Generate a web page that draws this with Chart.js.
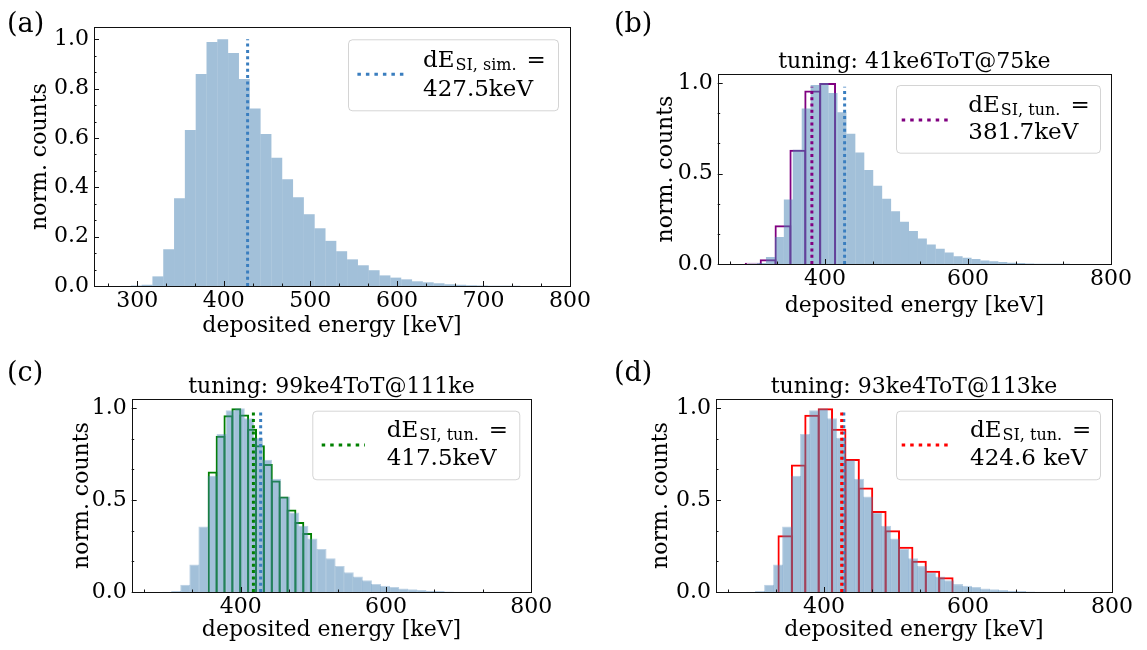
<!DOCTYPE html>
<html>
<head>
<meta charset="utf-8">
<title>deposited energy histograms</title>
<script src="https://cdn.jsdelivr.net/npm/chart.js@4.4.1/dist/chart.umd.min.js"></script>
<style>
  html, body { margin: 0; padding: 0; background: #fff; }
  #fig { position: relative; width: 1147px; height: 650px; overflow: hidden; }
  #fig canvas { position: absolute; }
</style>
</head>
<body>
<div id="fig">
  <canvas id="chartA" width="600" height="345" style="left:0;top:0"></canvas>
  <canvas id="chartB" width="547" height="345" style="left:600px;top:0"></canvas>
  <canvas id="chartC" width="600" height="305" style="left:0;top:345px"></canvas>
  <canvas id="chartD" width="547" height="305" style="left:600px;top:345px"></canvas>
</div>
<script>
// simulated deposited energy, 12.5 keV bins (bin centres in keV)
const simBinWidth = 12.5;
const simCenters = [298.75, 311.25, 323.75, 336.25, 348.75, 361.25, 373.75, 386.25, 398.75, 411.25,
  423.75, 436.25, 448.75, 461.25, 473.75, 486.25, 498.75, 511.25, 523.75, 536.25,
  548.75, 561.25, 573.75, 586.25, 598.75, 611.25, 623.75, 636.25, 648.75, 661.25,
  673.75, 686.25, 698.75, 711.25, 723.75, 736.25];
const simCounts = [0.002, 0.005, 0.039, 0.149, 0.356, 0.632, 0.859, 0.989, 1.0, 0.945,
  0.839, 0.72, 0.616, 0.52, 0.433, 0.36, 0.291, 0.234, 0.183, 0.141,
  0.108, 0.084, 0.064, 0.043, 0.034, 0.027, 0.019, 0.015, 0.011, 0.007,
  0.005, 0.003, 0.002, 0.001, 0.001, 0.001];
const simMean = 427.5;

// tuning 41ke6ToT@75ke
const tunB_binWidth = 20.8;
const tunB_centers = [278.9, 299.7, 320.5, 341.3, 362.1, 382.9, 403.7];
const tunB_counts = [0.002, 0.007, 0.026, 0.214, 0.631, 0.959, 1.0];
const tunB_mean = 381.7;

// tuning 99ke4ToT@111ke
const tunC_binWidth = 10.85;
const tunC_centers = [361.4, 372.3, 383.1, 394.0, 404.8, 415.7, 426.5, 437.4, 448.2, 459.1, 469.9, 480.8, 491.6];
const tunC_counts = [0.655, 0.850, 0.962, 1.0, 0.966, 0.888, 0.798, 0.697, 0.606, 0.520, 0.449, 0.381, 0.321];
const tunC_mean = 417.5;

// tuning 93ke4ToT@113ke
const tunD_binWidth = 18.6;
const tunD_centers = [346.1, 364.7, 383.3, 401.9, 420.5, 439.1, 457.7, 476.3, 494.9, 513.5, 532.1, 550.7, 569.3];
const tunD_counts = [0.309, 0.694, 0.964, 1.0, 0.888, 0.723, 0.568, 0.441, 0.336, 0.246, 0.170, 0.116, 0.080];
const tunD_mean = 424.6;

// axis ticks
const xTicksA = [300, 400, 500, 600, 700, 800];
const yTicksA = [0, 0.2, 0.4, 0.6, 0.8, 1.0];
const xTicksBCD = [400, 600, 800];
const yTicksBCD = [0, 0.5, 1.0];
const xMin = 250, xMax = 800;

const FONT = '"DejaVu Serif", serif';
const simFill = 'rgba(70,130,180,0.5)';
const simLine = '#3a7ebf';

// minor ticks: two between each pair of majors (3 divisions)
function minorTicks(majors, lo, hi) {
  const step = (majors[1] - majors[0]) / 3;
  const out = [];
  for (let v = majors[0] - 3 * step; v <= hi + 1e-9; v += step) {
    if (v < lo - 1e-9) continue;
    if (majors.some(m => Math.abs(m - v) < 1e-6)) continue;
    out.push(v);
  }
  return out;
}

function drawLegend(ctx, a, lg) {
  const bx = a.right - lg.gapR - lg.w, by = a.top + lg.gapT;
  ctx.save();
  ctx.beginPath();
  ctx.roundRect(bx + 0.5, by + 0.5, lg.w, lg.h, 4);
  ctx.fillStyle = 'rgba(255,255,255,0.8)';
  ctx.fill();
  ctx.strokeStyle = 'rgba(0,0,0,0.17)';
  ctx.lineWidth = 1;
  ctx.stroke();

  ctx.beginPath();
  ctx.setLineDash([3.5, 5]);
  ctx.lineWidth = 3;
  ctx.strokeStyle = lg.color;
  ctx.moveTo(bx + lg.sx0, by + lg.sy);
  ctx.lineTo(bx + lg.sx1, by + lg.sy);
  ctx.stroke();
  ctx.setLineDash([]);

  const big = '23px ' + FONT, small = '16px ' + FONT;
  ctx.fillStyle = '#000';
  ctx.textAlign = 'left';
  ctx.textBaseline = 'alphabetic';
  let tx = bx + lg.tx;
  ctx.font = big;
  ctx.fillText('dE', tx, by + lg.b1);
  tx += ctx.measureText('dE').width + 1;
  ctx.font = small;
  ctx.fillText(lg.sub, tx, by + lg.b1 + 3);
  tx += ctx.measureText(lg.sub).width;
  ctx.font = big;
  ctx.fillText('=', tx + 10, by + lg.b1);
  ctx.fillText(lg.value, bx + lg.tx, by + lg.b2);
  ctx.restore();
}

const panelDecor = {
  id: 'panelDecor',
  afterDatasetsDraw(chart, args, o) {
    const {ctx, chartArea: a} = chart;
    const x = chart.scales.x, y = chart.scales.y;
    ctx.save();
    ctx.strokeStyle = '#111';
    ctx.lineWidth = 1;
    ctx.beginPath();
    const mark = (vals, len, horiz) => vals.forEach(v => {
      if (horiz) {
        const p = Math.round(x.getPixelForValue(v)) + 0.5;
        ctx.moveTo(p, a.bottom); ctx.lineTo(p, a.bottom - len);
      } else {
        const p = Math.round(y.getPixelForValue(v)) + 0.5;
        ctx.moveTo(a.left, p); ctx.lineTo(a.left + len, p);
      }
    });
    mark(o.xMajor, 5, true);
    mark(minorTicks(o.xMajor, xMin, xMax), 2.5, true);
    mark(o.yMajor, 5, false);
    mark(minorTicks(o.yMajor, 0, 1.05), 2.5, false);
    ctx.stroke();
    const l = Math.round(a.left) + 0.5, t = Math.round(a.top) + 0.5;
    ctx.strokeRect(l, t, Math.round(a.right) - Math.round(a.left), Math.round(a.bottom) - Math.round(a.top));
    ctx.restore();
  },
  afterDraw(chart, args, o) {
    const {ctx, chartArea: a} = chart;
    ctx.save();
    ctx.fillStyle = '#000';
    ctx.textBaseline = 'alphabetic';
    ctx.textAlign = 'left';
    ctx.font = '27px ' + FONT;
    ctx.fillText(o.label, o.labelX, o.labelY);
    if (o.title) {
      ctx.textAlign = 'center';
      ctx.font = '22px ' + FONT;
      ctx.fillText(o.title, (a.left + a.right) / 2, a.top - 6);
    }
    ctx.restore();
    drawLegend(ctx, a, o.legend);
  }
};

function makeChart(id, p) {
  const canvas = document.getElementById(id);
  // pixels per keV of the plot area, used to size histogram bins to their full width
  const pxPerKeV = (canvas.width - p.yW - p.padRight) / (xMax - xMin);
  const datasets = [];
  if (p.tuned) {
    datasets.push({
      type: 'bar',
      data: p.tuned.centers.map((c, i) => ({x: c, y: p.tuned.counts[i]})),
      xAxisID: 'x2',
      backgroundColor: 'rgba(0,0,0,0)',
      borderColor: p.tuned.color,
      borderWidth: 2,
      grouped: false,
      categoryPercentage: 1,
      barPercentage: 100,
      maxBarThickness: p.tuned.binWidth * pxPerKeV + 2,
      inflateAmount: 0,
      order: 3
    });
  }
  datasets.push({
    type: 'bar',
    data: simCenters.map((c, i) => ({x: c, y: simCounts[i]})),
    xAxisID: 'x',
    backgroundColor: simFill,
    borderColor: 'rgba(70,130,180,0.35)',
    borderWidth: p.simEdge ? 1 : 0,
    grouped: false,
    categoryPercentage: 1,
    barPercentage: 100,
    maxBarThickness: simBinWidth * pxPerKeV + (p.simEdge ? 1 : 0),
    inflateAmount: 0,
    order: 2
  });
  datasets.push({
    type: 'line',
    data: [{x: simMean, y: 0}, {x: simMean, y: p.lineTop}],
    xAxisID: 'x',
    borderColor: simLine,
    borderWidth: 3,
    borderDash: [3, 3.3],
    pointRadius: 0,
    order: 1
  });
  if (p.tuned) {
    datasets.push({
      type: 'line',
      data: [{x: p.tuned.mean, y: 0}, {x: p.tuned.mean, y: p.lineTop}],
      xAxisID: 'x',
      borderColor: p.tuned.color,
      borderWidth: 3,
      borderDash: [3, 3.3],
      pointRadius: 0,
      order: 0
    });
  }

  const tickFont = {family: FONT, size: 22};
  return new Chart(canvas, {
    type: 'bar',
    data: {datasets},
    options: {
      responsive: false,
      maintainAspectRatio: false,
      devicePixelRatio: 1,
      animation: false,
      events: [],
      layout: {padding: {top: p.padTop, right: p.padRight, left: 0, bottom: 0}},
      plugins: {
        legend: {display: false},
        tooltip: {enabled: false},
        panelDecor: {
          xMajor: p.xTicks, yMajor: p.yTicks,
          label: p.label, labelX: p.labelX, labelY: p.labelY,
          title: p.title, legend: p.legend
        }
      },
      scales: {
        x: {
          type: 'linear', min: xMin, max: xMax, offset: false,
          grid: {display: false, drawTicks: false, offset: false},
          border: {display: false},
          ticks: {font: tickFont, color: '#000', padding: 2, autoSkip: false, maxRotation: 0,
                  callback: v => String(v)},
          afterBuildTicks: s => { s.ticks = p.xTicks.map(v => ({value: v})); },
          afterFit: s => { s.height = p.xH; s.paddingLeft = 0; s.paddingRight = 0; },
          title: {display: true, text: 'deposited energy [keV]', font: tickFont, color: '#000',
                  padding: {top: 0, bottom: p.xTitlePad}}
        },
        x2: {
          type: 'linear', min: xMin, max: xMax, offset: false, display: false,
          ticks: {stepSize: 200}
        },
        y: {
          type: 'linear', min: 0, max: 1.05,
          grid: {display: false, drawTicks: false},
          border: {display: false},
          ticks: {font: tickFont, color: '#000', padding: 5, autoSkip: false,
                  callback: v => v.toFixed(1)},
          afterBuildTicks: s => { s.ticks = p.yTicks.map(v => ({value: v})); },
          afterFit: s => { s.width = p.yW; s.paddingTop = 0; s.paddingBottom = 0; },
          title: {display: true, text: 'norm. counts', font: tickFont, color: '#000',
                  padding: {top: p.yTitlePad, bottom: 0}}
        }
      }
    },
    plugins: [panelDecor]
  });
}

makeChart('chartA', {
  label: '(a)', labelX: 7, labelY: 31.5,
  xTicks: xTicksA, yTicks: yTicksA,
  padTop: 27, padRight: 30, yW: 94, xH: 59, xTitlePad: 6, yTitlePad: 27,
  lineTop: 1.0, simEdge: false,
  legend: {color: simLine, sub: 'SI, sim.', value: '427.5keV',
           w: 210, h: 71, gapR: 12, gapT: 12.3, sx0: 9.4, sx1: 55.7, sy: 35, tx: 75, b1: 27.4, b2: 56.7}
});

makeChart('chartB', {
  label: '(b)', labelX: 14, labelY: 31.5, title: 'tuning: 41ke6ToT@75ke',
  xTicks: xTicksBCD, yTicks: yTicksBCD,
  padTop: 74, padRight: 36, yW: 117.7, xH: 81, xTitlePad: 25.4, yTitlePad: 52.8,
  lineTop: 0.98, simEdge: false,
  tuned: {centers: tunB_centers, counts: tunB_counts, mean: tunB_mean, binWidth: tunB_binWidth, color: '#800080'},
  legend: {color: '#800080', sub: 'SI, tun.', value: '381.7keV',
           w: 204, h: 67.7, gapR: 11, gapT: 11, sx0: 5.7, sx1: 52.3, sy: 35, tx: 72.3, b1: 26.7, b2: 54}
});

makeChart('chartC', {
  label: '(c)', labelX: 7, labelY: 36, title: 'tuning: 99ke4ToT@111ke',
  xTicks: xTicksBCD, yTicks: yTicksBCD,
  padTop: 54, padRight: 68.7, yW: 131.7, xH: 58, xTitlePad: 6.4, yTitlePad: 68.8,
  lineTop: 0.98, simEdge: true,
  tuned: {centers: tunC_centers, counts: tunC_counts, mean: tunC_mean, binWidth: tunC_binWidth, color: '#008000'},
  legend: {color: '#008000', sub: 'SI, tun.', value: '417.5keV',
           w: 207, h: 68.6, gapR: 12, gapT: 11.7, sx0: 9.4, sx1: 52.7, sy: 34.3, tx: 74.4, b1: 26, b2: 54.3}
});

makeChart('chartD', {
  label: '(d)', labelX: 14, labelY: 36, title: 'tuning: 93ke4ToT@113ke',
  xTicks: xTicksBCD, yTicks: yTicksBCD,
  padTop: 54, padRight: 35, yW: 116, xH: 58, xTitlePad: 6.4, yTitlePad: 48.5,
  lineTop: 0.98, simEdge: true,
  tuned: {centers: tunD_centers, counts: tunD_counts, mean: tunD_mean, binWidth: tunD_binWidth, color: '#ff0000'},
  legend: {color: '#ff0000', sub: 'SI, tun.', value: '424.6 keV',
           w: 204, h: 68.6, gapR: 12, gapT: 11.7, sx0: 5.7, sx1: 52.3, sy: 34.3, tx: 74, b1: 26, b2: 54.3}
});
</script>
</body>
</html>
